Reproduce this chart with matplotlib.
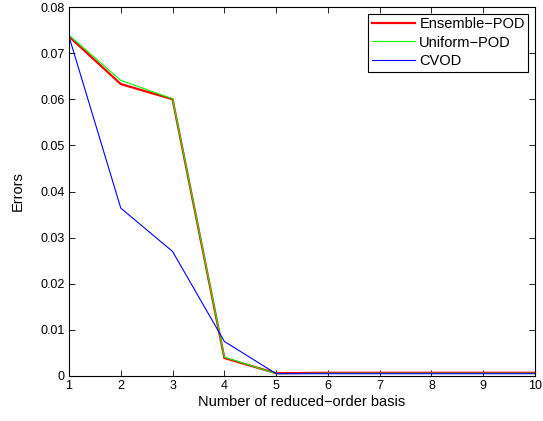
import matplotlib.pyplot as plt
import numpy as np

plt.rcParams['font.family'] = ['Liberation Sans', 'DejaVu Sans']

basis = [1, 2, 3, 4, 5, 6, 7, 8, 9, 10]
ensemble_pod = [0.0736, 0.0633, 0.0600, 0.0039, 0.0006, 0.0007, 0.0007, 0.0007, 0.0007, 0.0007]
uniform_pod = [0.0739, 0.0641, 0.0601, 0.0041, 0.0005, 0.0006, 0.0006, 0.0006, 0.0006, 0.0006]
cvod = [0.0736, 0.0364, 0.0270, 0.0075, 0.0005, 0.0005, 0.0005, 0.0005, 0.0005, 0.0005]

yticks = [0, 0.01, 0.02, 0.03, 0.04, 0.05, 0.06, 0.07, 0.08]
ylabels = ["0", "0.01", "0.02", "0.03", "0.04", "0.05", "0.06", "0.07", "0.08"]

fig = plt.figure(figsize=(5.43, 4.21), dpi=100)
ax = fig.add_axes([69 / 543, 45 / 421, (535 - 69) / 543, (376 - 7) / 421])

ax.plot(basis, ensemble_pod, color='#ff0000', lw=1.6, label="Ensemble\u2212POD")
ax.plot(basis, uniform_pod, color='#00ff00', lw=0.8, label="Uniform\u2212POD")
ax.plot(basis, cvod, color='#0000ff', lw=0.8, label="CVOD")

ax.set_xlim(1, 10)
ax.set_ylim(0, 0.08)
ax.set_xticks(basis)
ax.set_yticks(yticks)
ax.set_yticklabels(ylabels)
ax.tick_params(direction='in', top=True, right=True, labelsize=9, length=4, width=0.6, pad=3)
for s in ax.spines.values():
    s.set_linewidth(0.8)

ax.set_xlabel("Number of reduced\u2212order basis", fontsize=10.5, labelpad=2)
ax.set_ylabel("Errors", fontsize=10.5, labelpad=11)

leg = ax.legend(loc='upper right', fontsize=10.5, fancybox=False, framealpha=1,
                edgecolor='black', borderaxespad=0.45, handlelength=3.0,
                borderpad=0.25, labelspacing=0.3, handletextpad=0.27)
leg.get_frame().set_linewidth(0.8)

fig.savefig("out.png", dpi=100)
